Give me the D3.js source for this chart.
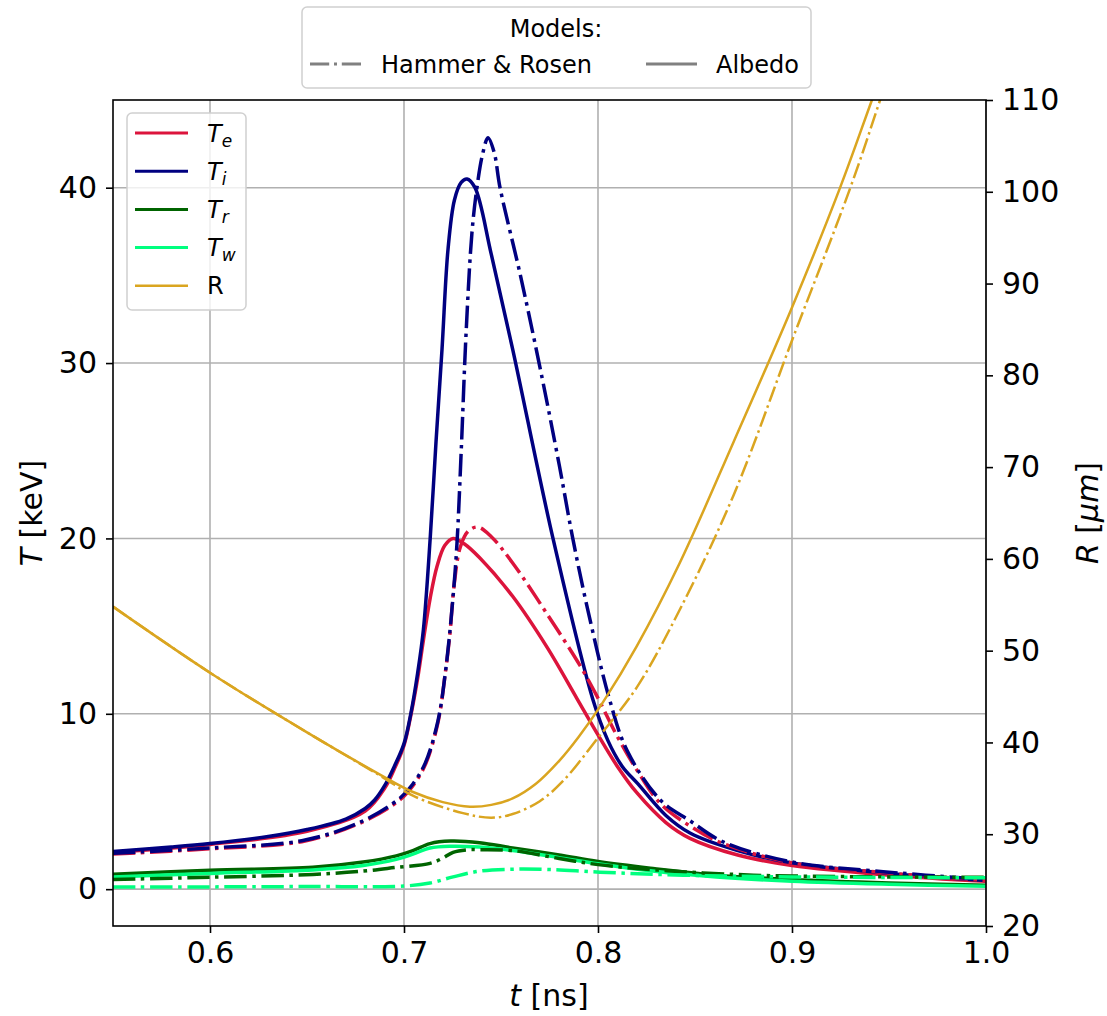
<!DOCTYPE html>
<html><head><meta charset="utf-8">
<script src="https://cdn.jsdelivr.net/npm/d3@7"></script>
<style>body{margin:0;background:#fff}svg{display:block}text{font-family:"DejaVu Sans",sans-serif;fill:#000}</style>
</head><body><svg id="c" width="1107" height="1016"></svg>
<script>
// ---- data ----
const xTicks = [0.6, 0.7, 0.8, 0.9, 1.0];
const yLeftTicks = [0, 10, 20, 30, 40];
const yRightTicks = [20, 30, 40, 50, 60, 70, 80, 90, 100, 110];

const tTiAlb = [0.55,0.58,0.60,0.63,0.65,0.67,0.68,0.685,0.69,0.695,0.70,0.7035,0.707,0.71,0.7135,0.7165,0.7196,0.7227,0.726,0.7295,0.7325,0.7366,0.745,0.756,0.7768,0.7974,0.805,0.8125,0.8206,0.835,0.8474,0.872,0.90,0.95,1.0];
const tiAlb  = [2.15,2.4,2.6,3.0,3.4,4.0,4.6,5.1,5.9,7.0,8.3,10.0,12.3,14.8,20.0,25.5,30.8,36.5,39.3,40.3,40.5,40.0,36.2,30.8,20.0,10.8,8.5,7.0,6.0,4.2,3.2,2.2,1.5,0.9,0.5];

const tTeAlb = [0.55,0.60,0.65,0.68,0.69,0.695,0.70,0.7035,0.707,0.71,0.7135,0.717,0.721,0.7253,0.731,0.739,0.756,0.7737,0.789,0.80,0.81,0.82,0.835,0.8474,0.872,0.90,0.95,1.0];
const teAlb  = [2.1,2.55,3.3,4.45,5.75,6.85,8.2,9.9,12.0,14.2,16.6,18.4,19.6,20.0,19.7,18.9,16.7,13.8,10.9,8.8,7.0,5.5,3.8,2.9,1.95,1.35,0.8,0.45];

const tTiHR = [0.55,0.60,0.649,0.679,0.698,0.7046,0.711,0.7175,0.7216,0.7253,0.7273,0.7295,0.732,0.735,0.7376,0.7405,0.7433,0.7465,0.7495,0.76,0.77,0.78,0.787,0.795,0.806,0.815,0.832,0.8474,0.8645,0.90,0.947,1.0];
const tiHR  = [2.05,2.35,2.8,3.9,5.2,6.0,7.2,9.6,12.6,16.7,19.7,25.0,31.7,37.4,40.0,41.9,42.85,42.0,40.0,35.0,29.8,24.2,20.0,15.8,10.8,7.9,5.1,3.9,2.7,1.55,1.0,0.55];

const tTeHR = [0.55,0.60,0.649,0.679,0.698,0.7046,0.711,0.7175,0.7216,0.7237,0.726,0.729,0.733,0.738,0.745,0.756,0.7737,0.791,0.7995,0.81,0.82,0.832,0.8474,0.8645,0.90,0.947,1.0];
const teHR  = [2.0,2.3,2.75,3.85,5.1,5.9,7.1,9.5,12.6,14.6,17.5,19.5,20.4,20.65,20.1,18.6,15.7,12.7,11.0,8.7,6.8,4.9,3.6,2.6,1.5,0.95,0.5];

const tTrTwAlb = [0.55,0.60,0.653,0.679,0.696,0.7046,0.7134,0.724,0.739,0.756,0.78,0.80,0.827,0.861,0.90,0.95,1.0];
const trAlb = [0.85,1.08,1.25,1.55,1.9,2.2,2.6,2.74,2.65,2.35,1.95,1.58,1.2,0.8,0.55,0.35,0.22];
const twAlb = [0.7,0.9,1.1,1.35,1.7,2.0,2.35,2.45,2.4,2.2,1.8,1.45,1.05,0.7,0.45,0.28,0.17];

const tTrHR = [0.55,0.60,0.653,0.679,0.696,0.7134,0.720,0.7253,0.733,0.739,0.756,0.78,0.80,0.8356,0.88,0.90,0.95,1.0];
const trHR  = [0.55,0.68,0.84,1.03,1.24,1.47,1.77,2.1,2.25,2.25,2.2,1.75,1.4,1.05,0.8,0.75,0.7,0.68];

const tTwHR = [0.55,0.60,0.65,0.70,0.7134,0.7253,0.739,0.756,0.775,0.801,0.844,0.90,1.0];
const twHR  = [0.12,0.13,0.15,0.18,0.35,0.7,1.03,1.14,1.12,0.97,0.8,0.7,0.65];

const tRAlb = [0.55,0.60,0.65,0.6876,0.7046,0.72,0.734,0.745,0.756,0.768,0.78,0.79,0.8026,0.82,0.842,0.87,0.90,0.9247,0.9412,0.96];
const rAlb  = [54.8,47.6,41.1,36.5,34.6,33.5,33.0,33.2,33.9,35.5,38.0,40.6,44.4,50.5,59.5,72.8,87.4,100.4,110,121];

const tRHR = [0.55,0.60,0.65,0.6876,0.7046,0.7304,0.745,0.756,0.77,0.782,0.80,0.82,0.842,0.87,0.90,0.93,0.9454,0.96];
const rHR  = [54.8,47.6,41.1,36.4,34.2,32.3,31.8,32.2,33.6,35.8,40.5,46.0,54.4,67.0,83.8,100.4,110,119.5];

const seriesNames = ["Te", "Ti", "Tr", "Tw", "R"];
const seriesColors = {Te:"#DC143C", Ti:"#000080", Tr:"#006400", Tw:"#00FF7F", R:"#DAA520"};
const seriesSubs = {Te:"e", Ti:"i", Tr:"r", Tw:"w"};
const modelNames = ["Hammer & Rosen", "Albedo"];

// ---- layout ----
const L = 113, R = 986, T = 100, B = 926;
const svg = d3.select("#c");
const x = d3.scaleLinear().domain([0.55, 1.0]).range([L, R]);
const yL = d3.scaleLinear().domain([-2.1, 45]).range([B, T]);
const yR = d3.scaleLinear().domain([20, 110]).range([B, T]);
const dashDot = lw => [6.4*lw, 1.6*lw, 1*lw, 1.6*lw].join(",");

svg.append("defs").append("clipPath").attr("id","clip")
  .append("rect").attr("x",L).attr("y",T).attr("width",R-L).attr("height",B-T);

// grid
const grid = svg.append("g").attr("stroke","#b0b0b0").attr("stroke-width",1.6);
xTicks.forEach(v => grid.append("line").attr("x1",x(v)).attr("x2",x(v)).attr("y1",T).attr("y2",B));
yLeftTicks.forEach(v => grid.append("line").attr("x1",L).attr("x2",R).attr("y1",yL(v)).attr("y2",yL(v)));

const plot = svg.append("g").attr("clip-path","url(#clip)");
function draw(ts, vs, ys, color, lw, dashed) {
  const line = d3.line().x(d => x(d[0])).y(d => ys(d[1])).curve(d3.curveCatmullRom.alpha(0.5));
  plot.append("path").datum(ts.map((t,i)=>[t, vs[i]]))
    .attr("d", line).attr("fill","none").attr("stroke", color)
    .attr("stroke-width", lw).attr("stroke-linejoin","round")
    .attr("stroke-dasharray", dashed ? dashDot(lw) : null);
}
const lwT = 3.5, lwR = 2.5;
// albedo (solid)
draw(tTeAlb, teAlb, yL, seriesColors.Te, lwT, false);
draw(tTiAlb, tiAlb, yL, seriesColors.Ti, lwT, false);
draw(tTrTwAlb, trAlb, yL, seriesColors.Tr, lwT, false);
draw(tTrTwAlb, twAlb, yL, seriesColors.Tw, lwT, false);
// Hammer & Rosen (dash-dot)
draw(tTeHR, teHR, yL, seriesColors.Te, lwT, true);
draw(tTiHR, tiHR, yL, seriesColors.Ti, lwT, true);
draw(tTrHR, trHR, yL, seriesColors.Tr, lwT, true);
draw(tTwHR, twHR, yL, seriesColors.Tw, lwT, true);
// radius on right axis
draw(tRAlb, rAlb, yR, seriesColors.R, lwR, false);
draw(tRHR, rHR, yR, seriesColors.R, lwR, true);

// axes
const fs = 30;
function styleAxis(g) {
  g.selectAll("text").style("font-size", fs+"px").style("font-family","DejaVu Sans");
  g.selectAll("line").attr("stroke","#000").attr("stroke-width",1.6);
  g.select(".domain").remove();
}
svg.append("g").attr("transform",`translate(0,${B})`)
  .call(d3.axisBottom(x).tickValues(xTicks).tickFormat(d3.format(".1f")).tickSize(7).tickPadding(9))
  .call(styleAxis);
svg.append("g").attr("transform",`translate(${L},0)`)
  .call(d3.axisLeft(yL).tickValues(yLeftTicks).tickFormat(d3.format("d")).tickSize(7).tickPadding(9))
  .call(styleAxis);
svg.append("g").attr("transform",`translate(${R},0)`)
  .call(d3.axisRight(yR).tickValues(yRightTicks).tickFormat(d3.format("d")).tickSize(7).tickPadding(9))
  .call(styleAxis);

// frame
svg.append("rect").attr("x",L).attr("y",T).attr("width",R-L).attr("height",B-T)
  .attr("fill","none").attr("stroke","#000").attr("stroke-width",1.6);

// axis labels
const xl = svg.append("text").attr("x",549).attr("y",1006).attr("text-anchor","middle").style("font-size",fs+"px");
xl.append("tspan").style("font-style","italic").text("t");
xl.append("tspan").text(" [ns]");
const yl = svg.append("text").attr("transform","translate(31,513) rotate(-90)").attr("dy","0.35em")
  .attr("text-anchor","middle").style("font-size",fs+"px");
yl.append("tspan").style("font-style","italic").text("T");
yl.append("tspan").text(" [keV]");
const yr = svg.append("text").attr("transform","translate(1087,513) rotate(-90)").attr("dy","0.35em")
  .attr("text-anchor","middle").style("font-size",fs+"px");
yr.append("tspan").style("font-style","italic").text("R");
yr.append("tspan").text(" [");
yr.append("tspan").style("font-style","italic").text("μm");
yr.append("tspan").text("]");

// series legend (upper left)
const lg = svg.append("g");
lg.append("rect").attr("x",127).attr("y",113).attr("width",119).attr("height",197).attr("rx",5)
  .attr("fill","#fff").attr("fill-opacity",0.8).attr("stroke","#d0d0d0").attr("stroke-width",1.5);
seriesNames.forEach((n,i) => {
  const yy = 133 + i*38.2;
  lg.append("line").attr("x1",135).attr("x2",188).attr("y1",yy).attr("y2",yy)
    .attr("stroke", seriesColors[n]).attr("stroke-width", n==="R" ? 2.6 : 3);
  const t = lg.append("text").attr("x",207).attr("y",yy).attr("dy","0.36em").style("font-size","24px");
  if (n === "R") { t.text("R"); }
  else {
    t.append("tspan").style("font-style","italic").text("T");
    t.append("tspan").style("font-style","italic").style("font-size","17px").attr("dy","5").text(seriesSubs[n]);
  }
});

// model legend (top)
const mg = svg.append("g");
mg.append("rect").attr("x",302).attr("y",7).attr("width",509).attr("height",81).attr("rx",5)
  .attr("fill","#fff").attr("stroke","#d0d0d0").attr("stroke-width",1.5);
mg.append("text").attr("x",556).attr("y",28).attr("dy","0.36em").attr("text-anchor","middle")
  .style("font-size","24px").text("Models:");
const modelLines = [{x1:310, tx:381, dashed:true}, {x1:646, tx:716, dashed:false}];
modelNames.forEach((m,i) => {
  const ml = modelLines[i];
  mg.append("line").attr("x1",ml.x1).attr("x2",ml.x1+51).attr("y1",64).attr("y2",64)
    .attr("stroke","#808080").attr("stroke-width",3)
    .attr("stroke-dasharray", ml.dashed ? dashDot(3) : null);
  mg.append("text").attr("x",ml.tx).attr("y",64).attr("dy","0.36em").style("font-size","24px").text(m);
});
</script></body></html>
